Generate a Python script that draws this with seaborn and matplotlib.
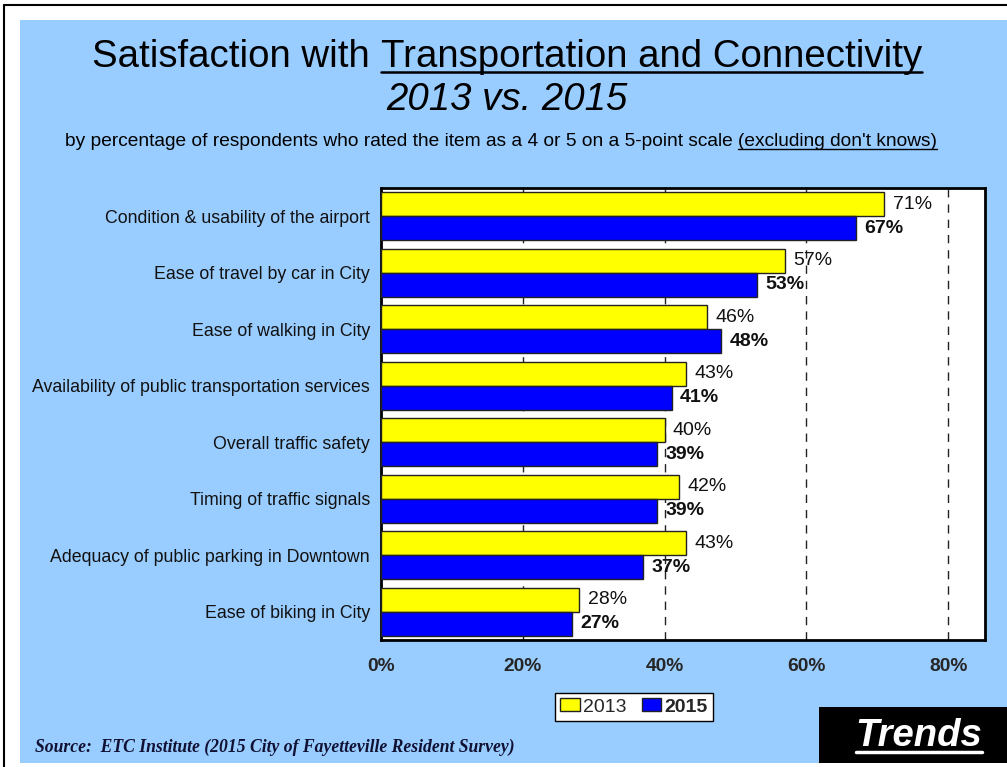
import matplotlib
matplotlib.use("Agg")
import matplotlib.pyplot as plt
from matplotlib import font_manager
from matplotlib.patches import Rectangle
from matplotlib.lines import Line2D
import seaborn as sns
import pandas as pd

# ---- data ----
items = [
    "Condition & usability of the airport",
    "Ease of travel by car in City",
    "Ease of walking in City",
    "Availability of public transportation services",
    "Overall traffic safety",
    "Timing of traffic signals",
    "Adequacy of public parking in Downtown",
    "Ease of biking in City",
]
pct_2013 = [71, 57, 46, 43, 40, 42, 43, 28]
pct_2015 = [67, 53, 48, 41, 39, 39, 37, 27]
years = ["2013", "2015"]
x_ticks = [0, 20, 40, 60, 80]

df = pd.DataFrame({
    "item": items * 2,
    "year": [years[0]] * len(items) + [years[1]] * len(items),
    "pct": pct_2013 + pct_2015,
})

W, H = 1007, 767
sns.set_style("white")


def has_font(name):
    try:
        font_manager.findfont(name, fallback_to_default=False)
        return True
    except Exception:
        return False


SANS = "Liberation Sans"
NARROW = "Liberation Sans Narrow" if has_font("Liberation Sans Narrow") else SANS
SERIF = "Liberation Serif"
plt.rcParams["font.family"] = [SANS, "DejaVu Sans"]

fig = plt.figure(figsize=(W / 100, H / 100), dpi=100, facecolor="white")


def fx(px):
    return px / W


def fy(py):
    return 1 - py / H


# page background panel and frame lines
fig.patches.append(Rectangle((fx(20), fy(763)), fx(W) - fx(20), fy(20) - fy(763),
                             transform=fig.transFigure, facecolor="#99CCFF",
                             edgecolor="none", zorder=-10))
fig.lines.append(Line2D([fx(4), fx(W)], [fy(5), fy(5)], transform=fig.transFigure,
                        color="black", lw=1.5))
fig.lines.append(Line2D([fx(4), fx(4)], [fy(5), fy(H)], transform=fig.transFigure,
                        color="black", lw=1.5))

renderer = fig.canvas.get_renderer()


def line_of_text(cx, base_py, segments, size, family, style="normal",
                 weight="normal", color="black", ul_off=4, ul_lw=1.5):
    """Draw text segments centred on cx, underlining flagged segments."""
    texts = []
    for s, _ in segments:
        t = fig.text(0, fy(base_py), s, fontsize=size, family=family, style=style,
                     weight=weight, color=color, ha="left", va="baseline")
        texts.append(t)
    probe_a = fig.text(0, 0, "aa", fontsize=size, family=family, style=style, weight=weight)
    probe_b = fig.text(0, 0, "a a", fontsize=size, family=family, style=style, weight=weight)
    space = (probe_b.get_window_extent(renderer).width
             - probe_a.get_window_extent(renderer).width)
    probe_a.remove()
    probe_b.remove()
    widths = [t.get_window_extent(renderer).width for t in texts]
    total = sum(widths) + space * (len(texts) - 1)
    x = cx - total / 2
    for t, w, (_, ul) in zip(texts, widths, segments):
        t.set_x(fx(x))
        if ul:
            fig.lines.append(Line2D([fx(x), fx(x + w)], [fy(base_py + ul_off)] * 2,
                                    transform=fig.transFigure, color=color, lw=ul_lw))
        x += w + space


# headings
line_of_text(507, 67, [("Satisfaction with", False),
                       ("Transportation and Connectivity", True)],
             27.6, NARROW, ul_off=5, ul_lw=1.8)
line_of_text(507, 110, [("2013 vs. 2015", False)], 27.6, NARROW, style="italic")
line_of_text(501, 146, [("by percentage of respondents who rated the item as a 4 or 5 on a 5-point scale", False),
                        ("(excluding don't knows)", True)],
             13.8, NARROW, ul_off=3, ul_lw=1.0)

# ---- chart ----
ax = fig.add_axes([fx(381), fy(640), fx(985) - fx(381), fy(188) - fy(640)])
ax.set_facecolor("white")
sns.barplot(data=df, y="item", x="pct", hue="year", order=items, hue_order=years,
            palette={"2013": "#FFFF00", "2015": "#0000FF"}, saturation=1,
            orient="h", width=0.85, errorbar=None, edgecolor="#222222",
            linewidth=1, legend=False, ax=ax, zorder=3)

for cont, wt in zip(ax.containers, ["normal", "bold"]):
    ax.bar_label(cont, fmt="%g%%", padding=6, fontsize=14, fontweight=wt,
                 color="#111111")

ax.set_xlim(0, 85.2)
ax.set_xticks(x_ticks)
ax.set_xticklabels([f"{v}%" for v in x_ticks], fontsize=13.8, fontweight="bold")
ax.tick_params(axis="x", length=0, pad=13)
ax.tick_params(axis="y", length=0, pad=8, labelsize=12.8, labelcolor="#111111")
ax.set_xlabel("")
ax.set_ylabel("")
ax.set_axisbelow(True)
ax.grid(axis="x", color="#222222", linestyle=(0, (6, 5)), linewidth=1)
ax.grid(axis="y", visible=False)
for sp in ax.spines.values():
    sp.set_visible(True)
    sp.set_color("black")
    sp.set_linewidth(2)

# legend
leg = fig.legend(ax.containers, years, loc="center", ncol=2,
                 bbox_to_anchor=(fx(634), fy(707)), frameon=True, fancybox=False,
                 edgecolor="black", framealpha=1, fontsize=14,
                 handlelength=1.0, handleheight=0.6, handletextpad=0.15,
                 columnspacing=0.8, borderpad=0.3, borderaxespad=0)
leg.get_frame().set_linewidth(1)
leg.get_texts()[1].set_fontweight("bold")

# source note
fig.text(fx(35), fy(752), "Source:  ETC Institute (2015 City of Fayetteville Resident Survey)",
         family=SERIF, style="italic", weight="bold", fontsize=12.7, color="#111133",
         ha="left", va="baseline")

# corner badge
fig.patches.append(Rectangle((fx(819), fy(763)), fx(W) - fx(819), fy(707) - fy(763),
                             transform=fig.transFigure, facecolor="black",
                             edgecolor="none", zorder=1))
line_of_text(919, 746, [("Trends", True)], 27.5, SANS, style="italic", weight="bold",
             color="white", ul_off=6, ul_lw=2.5)

fig.savefig("out.png", dpi=100, facecolor="white")
